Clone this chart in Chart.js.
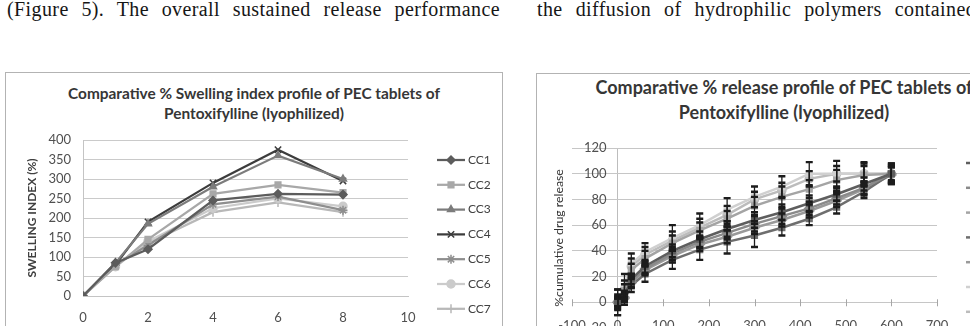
<!DOCTYPE html>
<html>
<head>
<meta charset="utf-8">
<script src="https://cdn.jsdelivr.net/npm/chart.js@4.4.1/dist/chart.umd.min.js"></script>
<style>
  html, body { margin: 0; padding: 0; background: #fff; width: 970px; height: 326px; overflow: hidden; }
  .txt { position: absolute; top: -1px; font-family: "Liberation Serif", serif; font-size: 20px; line-height: 20px;
         color: #161616; white-space: nowrap; letter-spacing: 0.4px; }
  .frame { position: absolute; border: 1px solid #b3b3b3; background: #fff; overflow: hidden; }
  .ttl { position: absolute; left: 0; font-family: Lato, sans-serif; font-weight: bold; color: #363636;
         text-align: center; white-space: nowrap; }
  canvas { position: absolute; left: 0; top: 0; }
</style>
</head>
<body>
<div class="txt" style="left:7px; width:493px; text-align:justify; text-align-last:justify;">(Figure 5). The overall sustained release performance</div>
<div class="txt" style="left:537px; word-spacing:7.6px;">the diffusion of hydrophilic polymers contained</div>

<div class="frame" style="left:5px; top:72px; width:496px; height:300px;">
  <div class="ttl" style="top:10px; width:496px; font-size:15.4px; line-height:20px;">
    Comparative % Swelling index profile of PEC tablets of<br>Pentoxifylline (lyophilized)
  </div>
  <canvas id="swelling"></canvas>
</div>

<div class="frame" style="left:536px; top:73px; width:520px; height:300px;">
  <div class="ttl" style="top:1px; width:494px; font-size:18px; line-height:25px;">
    Comparative % release profile of PEC tablets of<br>Pentoxifylline (lyophilized)
  </div>
  <canvas id="release"></canvas>
</div>

<script>
// swelling index (%) vs time (h)
const swellTimes = [0, 1, 2, 4, 6, 8];
const swellLabels = ["CC1", "CC2", "CC3", "CC4", "CC5", "CC6", "CC7"];
const swellCC1 = [0, 85, 120, 245, 262, 260];
const swellCC2 = [0, 75, 145, 262, 285, 265];
const swellCC3 = [0, 85, 185, 280, 360, 300];
const swellCC4 = [0, 80, 190, 290, 375, 295];
const swellCC5 = [0, 80, 130, 235, 255, 220];
const swellCC6 = [0, 75, 140, 225, 250, 230];
const swellCC7 = [0, 80, 135, 215, 240, 215];

// % cumulative drug release vs time (min), with error bars
const releaseTimes = [0, 15, 30, 60, 120, 180, 240, 300, 360, 420, 480, 540, 600];
const releaseLabels = ["CC1", "CC2", "CC3", "CC4", "CC5", "CC6", "CC7"];
const releaseCC1 = [0, 5, 18, 28, 40, 49, 57, 64, 70, 77, 84, 92, 100];
const releaseCC2 = [0, 4, 16, 26, 38, 47, 54, 61, 67, 73, 81, 89, 100];
const releaseCC3 = [0, 9, 25, 34, 46, 56, 65, 75, 82, 88, 95, 99, 100];
const releaseCC4 = [0, 2, 13, 22, 33, 41, 47, 52, 58, 65, 74, 86, 100];
const releaseCC5 = [0, 3, 15, 25, 36, 45, 51, 58, 64, 71, 79, 88, 99];
const releaseCC6 = [0, 12, 30, 39, 50, 60, 72, 82, 90, 100, 100, 100, 100];
const releaseCC7 = [0, 10, 28, 37, 48, 58, 68, 80, 87, 96, 100, 100, 100];
const errCC1 = [4, 4, 4, 5, 5, 6, 6, 6, 6, 6, 5, 5, 6];
const errCC2 = [3, 3, 4, 4, 5, 5, 5, 6, 6, 5, 5, 5, 5];
const errCC3 = [5, 5, 5, 6, 6, 6, 6, 7, 8, 7, 8, 9, 7];
const errCC4 = [10, 4, 5, 6, 7, 8, 9, 9, 6, 5, 5, 5, 8];
const errCC5 = [3, 3, 4, 4, 5, 5, 5, 5, 5, 5, 5, 5, 6];
const errCC6 = [10, 10, 8, 7, 10, 9, 9, 8, 8, 9, 10, 9, 8];
const errCC7 = [6, 7, 6, 6, 7, 7, 7, 6, 6, 6, 6, 6, 6];

Chart.defaults.font.family = "Lato, sans-serif";
Chart.defaults.color = "#4d4d4d";

const toPoints = (xs, ys) => xs.map((x, i) => ({ x: x, y: ys[i] }));

// legend drawn to the right like the spreadsheet one (line + marker + name)
const sideLegend = {
  id: "sideLegend",
  afterDraw(chart, args, opts) {
    const { ctx, chartArea } = chart;
    ctx.save();
    ctx.font = opts.font;
    ctx.textBaseline = "middle";
    chart.data.datasets.forEach((ds, i) => {
      const x0 = chartArea.right + opts.offsetX;
      const y0 = chartArea.top + opts.offsetY + i * opts.gap;
      ctx.strokeStyle = ds.borderColor;
      ctx.lineWidth = ds.borderWidth;
      ctx.beginPath();
      ctx.moveTo(x0, y0);
      ctx.lineTo(x0 + 28, y0);
      ctx.stroke();
      ctx.fillStyle = ds.pointBackgroundColor;
      ctx.strokeStyle = ds.pointBorderColor;
      ctx.lineWidth = 1.5;
      if (Chart.helpers && Chart.helpers.drawPoint) {
        Chart.helpers.drawPoint(ctx, { pointStyle: ds.pointStyle, radius: ds.pointRadius, rotation: 0, borderWidth: 1.5 }, x0 + 14, y0);
      } else {
        ctx.fillRect(x0 + 11, y0 - 3, 6, 6);
      }
      ctx.fillStyle = opts.color;
      ctx.fillText(ds.label, x0 + 31, y0);
    });
    ctx.restore();
  },
};

const errorBars = {
  id: "errorBars",
  afterDatasetsDraw(chart) {
    const { ctx } = chart;
    const xs = chart.scales.x, ys = chart.scales.y;
    ctx.save();
    ctx.strokeStyle = "#1c1c1c";
    chart.data.datasets.forEach((ds) => {
      if (!ds.errors) return;
      ds.data.forEach((p, i) => {
        const e = ds.errors[i];
        const px = xs.getPixelForValue(p.x);
        const top = ys.getPixelForValue(p.y + e);
        const bot = ys.getPixelForValue(p.y - e);
        ctx.lineWidth = 1.3;
        ctx.beginPath();
        ctx.moveTo(px, top);
        ctx.lineTo(px, bot);
        ctx.stroke();
        ctx.lineWidth = 2.4;
        ctx.beginPath();
        ctx.moveTo(px - 3.5, top);
        ctx.lineTo(px + 3.5, top);
        ctx.moveTo(px - 3.5, bot);
        ctx.lineTo(px + 3.5, bot);
        ctx.stroke();
      });
    });
    ctx.restore();
  },
};

// small tick marks crossing the horizontal axis at y = 0
const crossTicks = {
  id: "crossTicks",
  beforeDatasetsDraw(chart) {
    const { ctx } = chart;
    const xs = chart.scales.x, ys = chart.scales.y;
    const y0 = ys.getPixelForValue(0);
    ctx.save();
    ctx.strokeStyle = "#a6a6a6";
    ctx.lineWidth = 1;
    xs.ticks.forEach((t) => {
      const px = Math.round(xs.getPixelForValue(t.value)) + 0.5;
      ctx.beginPath();
      ctx.moveTo(px, y0 - 3);
      ctx.lineTo(px, y0 + 4);
      ctx.stroke();
    });
    ctx.restore();
  },
};

function lineSet(label, xs, ys, color, style, radius, width) {
  return {
    label: label,
    data: toPoints(xs, ys),
    borderColor: color,
    backgroundColor: color,
    pointBackgroundColor: color,
    pointBorderColor: color,
    pointStyle: style,
    pointRadius: radius,
    pointBorderWidth: 1.5,
    borderWidth: width,
    tension: 0,
  };
}

const swellCanvas = document.getElementById("swelling");
swellCanvas.width = 496;
swellCanvas.height = 270;
new Chart(swellCanvas, {
  type: "line",
  data: {
    datasets: [
      lineSet(swellLabels[0], swellTimes, swellCC1, "#5c5c5c", "rectRot", 4, 2.25),
      lineSet(swellLabels[1], swellTimes, swellCC2, "#a8a8a8", "rect", 4, 2.25),
      lineSet(swellLabels[2], swellTimes, swellCC3, "#7c7c7c", "triangle", 4, 2.25),
      lineSet(swellLabels[3], swellTimes, swellCC4, "#3c3c3c", "crossRot", 4.5, 2.25),
      lineSet(swellLabels[4], swellTimes, swellCC5, "#8e8e8e", "star", 4.5, 2.25),
      lineSet(swellLabels[5], swellTimes, swellCC6, "#cbcbcb", "circle", 4, 2.25),
      lineSet(swellLabels[6], swellTimes, swellCC7, "#b8b8b8", "cross", 4.5, 2.25),
    ],
  },
  options: {
    responsive: false,
    animation: false,
    layout: { padding: { top: 67, right: 94, left: 0, bottom: 0 } },
    plugins: {
      legend: { display: false },
      tooltip: { enabled: false },
      sideLegend: { offsetX: 29, offsetY: 20, gap: 24.8, font: "12px Lato", color: "#404040" },
    },
    scales: {
      x: {
        type: "linear",
        min: 0,
        max: 10,
        ticks: { stepSize: 2, padding: 14, font: { size: 13 }, color: "#505050" },
        grid: { display: false, drawTicks: false },
        border: { display: true, color: "#c4c4c4" },
        afterFit: (s) => { s.height = 47; },
      },
      y: {
        min: 0,
        max: 400,
        ticks: { stepSize: 50, padding: 12, font: { size: 13 }, color: "#505050" },
        grid: { color: "#cacaca", drawTicks: false },
        border: { display: true, color: "#c4c4c4" },
        title: { display: true, text: "SWELLING INDEX (%)", font: { size: 12, weight: "bold" }, color: "#404040", padding: { top: 19, bottom: 0 } },
        afterFit: (s) => { s.width = 77; },
      },
    },
  },
  plugins: [sideLegend],
});

const relCanvas = document.getElementById("release");
relCanvas.width = 520;
relCanvas.height = 284;
const relSets = [
  lineSet(releaseLabels[0], releaseTimes, releaseCC1, "#5e5e5e", "rect", 4, 2.5),
  lineSet(releaseLabels[1], releaseTimes, releaseCC2, "#8a8a8a", "rectRot", 4.5, 2.5),
  lineSet(releaseLabels[2], releaseTimes, releaseCC3, "#a4a4a4", "rect", 4, 2.5),
  lineSet(releaseLabels[3], releaseTimes, releaseCC4, "#6e6e6e", "rect", 4, 2.5),
  lineSet(releaseLabels[4], releaseTimes, releaseCC5, "#9a9a9a", "rectRot", 4.5, 2.5),
  lineSet(releaseLabels[5], releaseTimes, releaseCC6, "#d0d0d0", "rect", 4, 2.5),
  lineSet(releaseLabels[6], releaseTimes, releaseCC7, "#bcbcbc", "circle", 4, 2.5),
];
const relErrors = [errCC1, errCC2, errCC3, errCC4, errCC5, errCC6, errCC7];
relSets.forEach((ds, i) => { ds.errors = relErrors[i]; });

new Chart(relCanvas, {
  type: "line",
  data: { datasets: relSets },
  options: {
    responsive: false,
    animation: false,
    layout: { padding: { top: 74, right: 120, left: 0, bottom: 0 } },
    plugins: {
      legend: { display: false },
      tooltip: { enabled: false },
      sideLegend: { offsetX: 29, offsetY: 15, gap: 24.8, font: "12px Lato", color: "#404040" },
    },
    scales: {
      x: {
        type: "linear",
        min: -100,
        max: 700,
        // mirrored so the labels sit at the low edge of the plot, unclipped
        ticks: { stepSize: 100, mirror: true, padding: -6, font: { size: 13 }, color: "#505050" },
        grid: {
          drawTicks: false,
          color: (c) => (c.tick && c.tick.value === 0 ? "#bdbdbd" : "rgba(0,0,0,0)"),
        },
        border: { display: false },
        afterFit: (s) => { s.height = 30; },
      },
      y: {
        min: -20,
        max: 120,
        ticks: { stepSize: 20, mirror: true, crossAlign: "far", padding: 12, font: { size: 13 }, color: "#505050" },
        grid: { color: "#c6c6c6", drawTicks: false },
        border: { display: false },
        title: { display: true, text: "%cumulative drug release", font: { size: 12.3 }, color: "#333", padding: { top: 15, bottom: 0 } },
        afterFit: (s) => { s.width = 35; },
      },
    },
  },
  plugins: [crossTicks, errorBars, sideLegend],
});
</script>
</body>
</html>
